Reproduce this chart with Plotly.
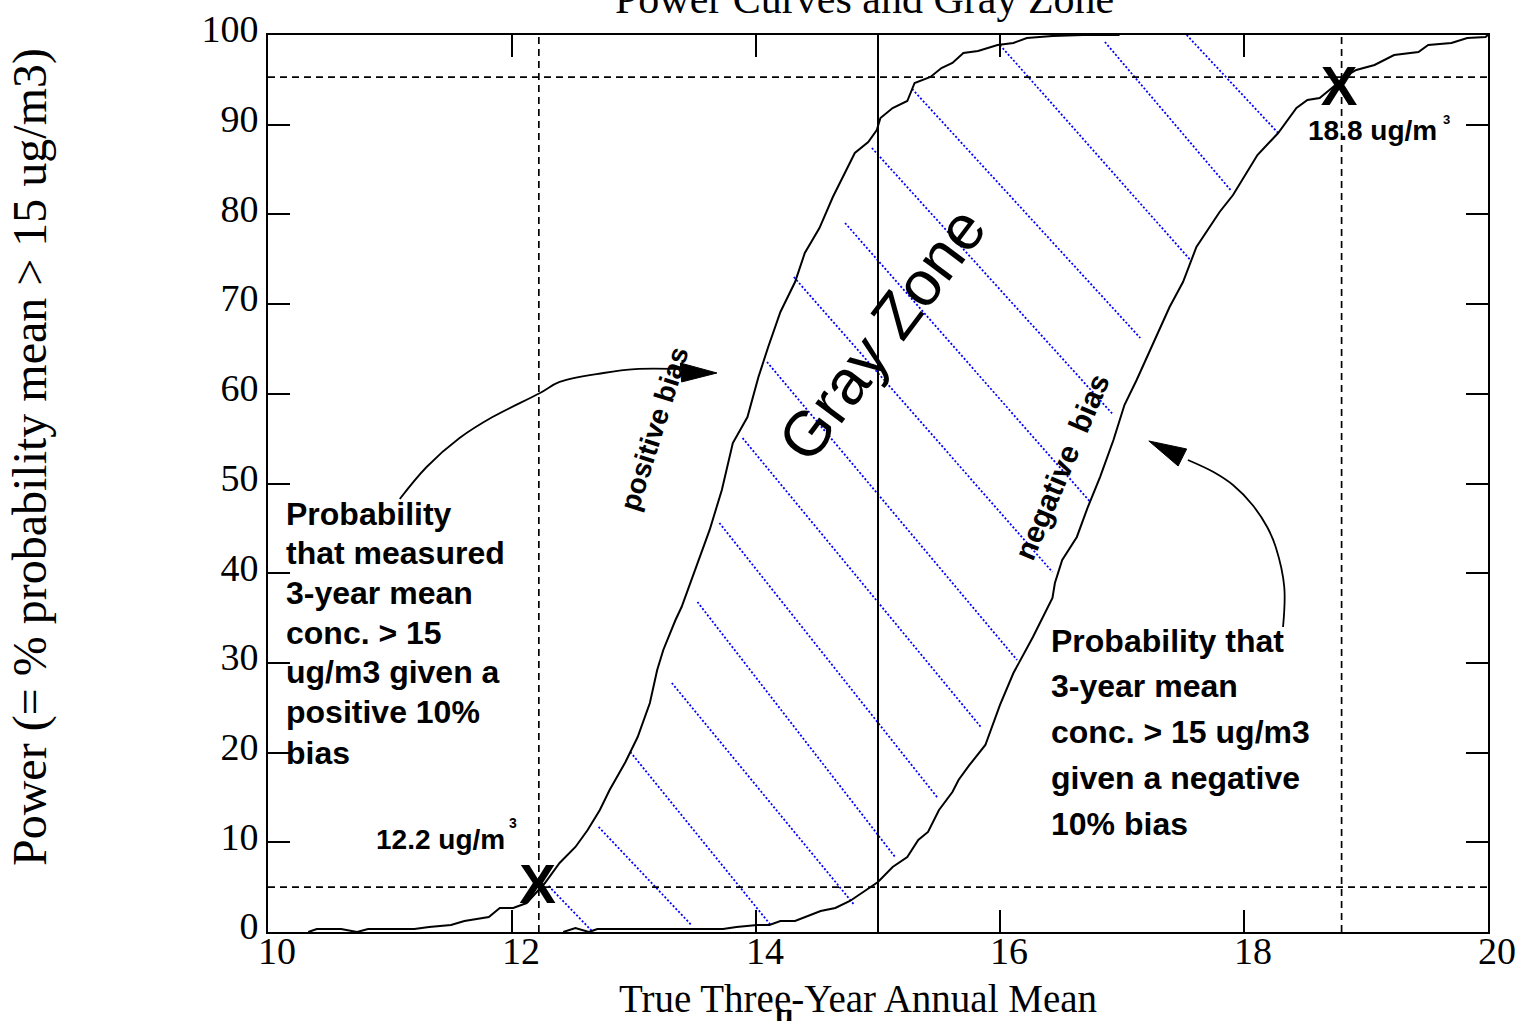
import plotly.graph_objects as go

# ---------------- data ----------------
# power curve with a positive 10% bias (left curve)
pos_x = [10.33, 10.40, 10.60, 10.73, 10.82, 11.20, 11.32, 11.50, 11.61, 11.81, 11.90, 12.01,
         12.12, 12.27, 12.39, 12.52, 12.62, 12.72, 12.80, 12.93, 13.03, 13.13, 13.19, 13.24,
         13.34, 13.39, 13.62, 13.72, 13.81, 13.93, 14.02, 14.10, 14.20, 14.32, 14.40, 14.52,
         14.63, 14.73, 14.81, 14.92, 14.99, 15.02, 15.12, 15.24, 15.30, 15.43, 15.52, 15.61,
         15.70, 15.82, 15.98, 16.11, 16.22, 16.43, 16.68, 16.98]
pos_y = [0.0, 0.33, 0.33, 0.0, 0.33, 0.33, 0.56, 0.78, 1.23, 1.67, 2.68, 2.68,
         3.23, 5.46, 7.69, 9.48, 11.37, 13.60, 15.83, 18.95, 21.74, 25.53, 29.21, 31.44,
         34.78, 36.23, 44.82, 49.28, 54.51, 57.41, 61.87, 65.22, 69.12, 72.46, 75.70, 78.48,
         81.94, 84.61, 86.85, 88.07, 89.41, 90.75, 91.86, 92.64, 94.65, 95.32, 96.32, 96.88,
         97.99, 98.22, 98.88, 99.11, 99.67, 99.89, 100.0, 100.0]

# power curve with a negative 10% bias (right curve)
neg_x = [12.42, 12.52, 12.63, 12.70, 13.73, 13.84, 14.01, 14.11, 14.20, 14.32, 14.53, 14.65,
         14.77, 14.93, 15.00, 15.12, 15.24, 15.33, 15.41, 15.50, 15.61, 15.66, 15.75, 15.88,
         16.00, 16.11, 16.27, 16.43, 16.45, 16.51, 16.63, 16.72, 16.82, 16.93, 17.02, 17.12,
         17.25, 17.39, 17.50, 17.61, 17.80, 17.91, 18.11, 18.28, 18.43, 18.52, 18.62, 18.73,
         18.85, 18.92, 19.07, 19.23, 19.43, 19.51, 19.70, 19.83, 19.98, 20.0]
neg_y = [0.0, 0.45, 0.0, 0.33, 0.33, 0.56, 0.78, 0.78, 1.23, 1.23, 2.34, 2.68,
         3.46, 4.91, 5.57, 7.25, 8.36, 10.26, 11.15, 13.60, 15.61, 16.95, 18.62, 20.85,
         25.31, 28.87, 32.89, 37.24, 38.91, 41.47, 44.04, 47.38, 50.72, 54.85, 58.75, 61.54,
         65.44, 69.68, 72.46, 76.37, 80.27, 82.16, 86.62, 89.07, 91.86, 92.75, 92.98, 94.20,
         95.54, 96.10, 96.66, 97.77, 98.10, 98.88, 99.11, 99.67, 99.78, 100.0]

# blue dotted hatching of the gray zone (segment start / end)
hatch_x0 = [12.30, 12.71, 12.97, 13.31, 13.52, 13.70, 13.89, 14.09, 14.31, 14.73, 14.95, 15.28, 16.00, 16.86, 17.53]
hatch_y0 = [5.13, 11.71, 20.07, 27.76, 36.79, 45.60, 55.07, 63.55, 73.02, 79.04, 87.40, 93.98, 98.88, 99.22, 100.0]
hatch_x1 = [12.75, 13.47, 14.12, 14.80, 15.14, 15.49, 15.85, 16.14, 16.43, 16.74, 16.93, 17.15, 17.56, 17.89, 18.28]
hatch_y1 = [-1.23, 0.78, 0.78, 3.12, 8.36, 14.94, 22.74, 30.32, 40.13, 47.94, 57.64, 66.22, 74.92, 82.72, 89.07]

# reference lines
ref_x = [12.22, 18.8]        # dashed verticals (12.2 and 18.8 ug/m3)
ref_y = [5.0, 95.3]          # dashed horizontals (5% and 95% power)
threshold = 15               # solid vertical at the standard
mark_x = [12.21, 18.78]      # big "X" markers
mark_y = [4.8, 93.7]

# curved annotation arrows
arrow_l_x = [11.08, 11.30, 11.57, 11.84, 12.23, 12.39, 12.75, 13.01, 13.38]
arrow_l_y = [48.27, 51.84, 55.07, 57.41, 60.09, 61.32, 62.32, 62.76, 62.76]
head_l_x = [13.68, 13.38, 13.39]
head_l_y = [62.32, 63.43, 61.32]
arrow_r_x = [18.32, 18.33, 18.26, 18.19, 18.07, 17.91, 17.75, 17.54]
arrow_r_y = [34.00, 38.46, 42.92, 45.15, 47.60, 49.83, 51.28, 52.62]
head_r_x = [17.22, 17.53, 17.46]
head_r_y = [54.74, 53.85, 51.95]

x_ticks = [10, 12, 14, 16, 18, 20]
y_ticks = [0, 10, 20, 30, 40, 50, 60, 70, 80, 90, 100]

left_lines = ["Probability", "that measured", "3-year mean", "conc. &gt; 15",
              "ug/m3 given a", "positive 10%", "bias"]
left_line_y = [46.61, 42.26, 37.80, 33.34, 28.96, 24.50, 19.97]
left_line_x = 10.13
right_lines = ["Probability that", "3-year mean", "conc. &gt; 15 ug/m3",
               "given a negative", "10% bias"]
right_line_y = [32.49, 27.38, 22.27, 17.18, 12.05]
right_line_x = 16.40

SERIF = "Liberation Serif"
SANS = "Liberation Sans"

fig = go.Figure()

# hatching
hx, hy = [], []
for a, b, c, d in zip(hatch_x0, hatch_y0, hatch_x1, hatch_y1):
    hx += [a, c, None]
    hy += [b, d, None]
fig.add_trace(go.Scatter(x=hx, y=hy, mode="lines",
                         line=dict(color="#0000ff", width=1.8, dash="2px,2px"),
                         hoverinfo="skip"))

# power curves
fig.add_trace(go.Scatter(x=pos_x, y=pos_y, mode="lines", name="positive bias",
                         line=dict(color="black", width=2)))
fig.add_trace(go.Scatter(x=neg_x, y=neg_y, mode="lines", name="negative bias",
                         line=dict(color="black", width=2)))

# arrows
for ax_, ay_ in [(arrow_l_x, arrow_l_y), (arrow_r_x, arrow_r_y)]:
    fig.add_trace(go.Scatter(x=ax_, y=ay_, mode="lines",
                             line=dict(color="black", width=1.8, shape="spline"),
                             hoverinfo="skip"))
for hx_, hy_ in [(head_l_x, head_l_y), (head_r_x, head_r_y)]:
    fig.add_trace(go.Scatter(x=hx_ + [hx_[0]], y=hy_ + [hy_[0]], mode="lines",
                             fill="toself", fillcolor="black",
                             line=dict(color="black", width=1), hoverinfo="skip"))

# X markers
fig.add_trace(go.Scatter(x=mark_x, y=mark_y, mode="text", text=["<b>X</b>", "<b>X</b>"],
                         textposition="middle center",
                         textfont=dict(family=SANS, size=55, color="black"),
                         hoverinfo="skip"))

shapes = []
dash = "7px,5px"
for xv in ref_x:
    shapes.append(dict(type="line", xref="x", yref="y", x0=xv, x1=xv, y0=0, y1=100,
                       line=dict(color="black", width=1.7, dash=dash)))
for yv in ref_y:
    shapes.append(dict(type="line", xref="x", yref="y", x0=10, x1=20, y0=yv, y1=yv,
                       line=dict(color="black", width=1.7, dash=dash)))
shapes.append(dict(type="line", xref="x", yref="y", x0=threshold, x1=threshold, y0=0, y1=100,
                   line=dict(color="black", width=2)))


def ann(text, x, y, size, family=SANS, xanchor="center", yanchor="middle",
        angle=0, xref="x", yref="y"):
    return dict(text=text, x=x, y=y, xref=xref, yref=yref, showarrow=False,
                xanchor=xanchor, yanchor=yanchor, textangle=angle,
                font=dict(family=family, size=size, color="black"))


annotations = []
# titles
annotations.append(ann("Power Curves and Gray Zone", 0.4893, 1.0397, 42, family=SERIF,
                       xref="paper", yref="paper"))
annotations.append(ann("True Three-Year Annual Mean", 0.4836, -0.0746, 39, family=SERIF,
                       xref="paper", yref="paper"))
annotations.append(ann("<b>\u03bc</b>", 0.423, -0.093, 30, xref="paper", yref="paper"))
annotations.append(ann("Power (= % probability mean &gt; 15 ug/m3)", -0.1951, 0.5295, 48,
                       family=SERIF, angle=-90, xref="paper", yref="paper"))

# text blocks
for t, yv in zip(left_lines, left_line_y):
    annotations.append(ann("<b>" + t + "</b>", left_line_x, yv, 32, xanchor="left"))
for t, yv in zip(right_lines, right_line_y):
    annotations.append(ann("<b>" + t + "</b>", right_line_x, yv, 32, xanchor="left"))

# point labels
annotations.append(ann("<b>12.2 ug/m</b>", 10.87, 10.26, 28, xanchor="left"))
annotations.append(ann("<b>3</b>", 12.01, 12.15, 14))
annotations.append(ann("<b>18.8 ug/m</b>", 18.51, 89.3, 28, xanchor="left"))
annotations.append(ann("<b>3</b>", 19.66, 90.6, 13))

# rotated labels
annotations.append(ann("Gray Zone", 15.03, 66.67, 63, angle=-53))
annotations.append(ann("<b>positive bias</b>", 13.17, 56.08, 28, angle=-72.5))
annotations.append(ann("<b>negative\u00a0 bias</b>", 16.51, 51.85, 30, angle=-67))

fig.update_layout(
    width=1515, height=1021,
    margin=dict(l=268, r=27, t=35, b=89, autoexpand=False),
    paper_bgcolor="white", plot_bgcolor="white",
    showlegend=False,
    shapes=shapes,
    annotations=annotations,
)
fig.update_xaxes(range=[10, 20], tickvals=x_ticks, ticktext=[str(v) for v in x_ticks],
                 showgrid=False, zeroline=False, showline=True, linecolor="black",
                 linewidth=2, mirror="ticks", ticks="inside", ticklen=22, tickwidth=2,
                 tickcolor="black", tickfont=dict(family=SERIF, size=38, color="black"),
                 ticklabelshift=9, ticklabelstandoff=-16, automargin=False,
                 ticklabeloverflow="allow")
fig.update_yaxes(range=[0, 100], tickvals=y_ticks, ticktext=[str(v) for v in y_ticks],
                 showgrid=False, zeroline=False, showline=True, linecolor="black",
                 linewidth=2, mirror="ticks", ticks="inside", ticklen=22, tickwidth=2,
                 tickcolor="black", tickfont=dict(family=SERIF, size=38, color="black"),
                 ticklabelshift=-6, ticklabelstandoff=0, automargin=False,
                 ticklabeloverflow="allow")

fig.write_html("out.html")
